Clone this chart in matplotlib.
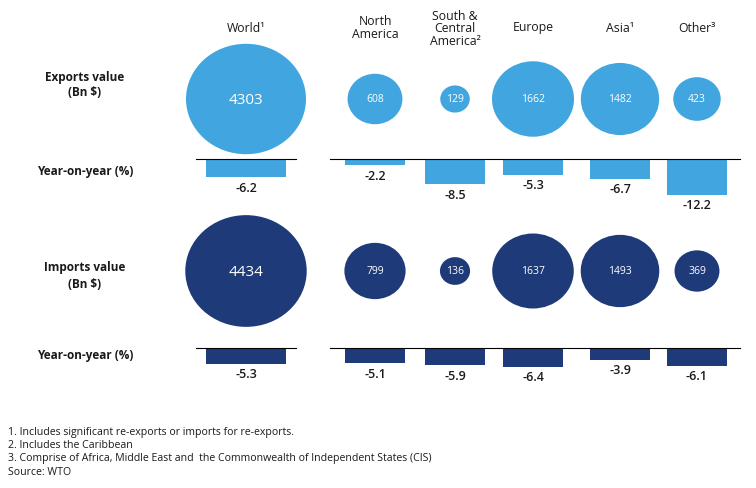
import numpy as np
import matplotlib.pyplot as plt
from matplotlib.patches import Ellipse, Rectangle

plt.rcParams['font.family'] = ['Open Sans', 'DejaVu Sans']

regions = ["World¹", "North\nAmerica", "South &\nCentral\nAmerica²", "Europe", "Asia¹", "Other³"]
exports_value = [4303, 608, 129, 1662, 1482, 423]
exports_yoy = [-6.2, -2.2, -8.5, -5.3, -6.7, -12.2]
imports_value = [4434, 799, 136, 1637, 1493, 369]
imports_yoy = [-5.3, -5.1, -5.9, -6.4, -3.9, -6.1]
notes = [
    "1. Includes significant re-exports or imports for re-exports.",
    "2. Includes the Caribbean",
    "3. Comprise of Africa, Middle East and  the Commonwealth of Independent States (CIS)",
    "Source: WTO",
]

light = "#41A5E0"
dark = "#1E3A78"
txt = "#1a1a1a"

col_x = [246, 375, 455, 533, 620, 697]
bar_w = [80, 60, 60, 60, 60, 60]

fig = plt.figure(figsize=(7.56, 4.89), dpi=100)
ax = fig.add_axes([0, 0, 1, 1])
ax.set_xlim(0, 756)
ax.set_ylim(489, 0)
ax.axis("off")

header_y = [28, 28, 29, 28, 28, 28]
for x, name, y in zip(col_x, regions, header_y):
    ax.text(x, y, name, ha="center", va="center", fontsize=8.8, color=txt, linespacing=0.95)

def bubbles(values, cy, color):
    for x, v in zip(col_x, values):
        w = 120 * (v / 4303) ** 0.4
        ax.add_patch(Ellipse((x, cy), w, w * 0.92, color=color, lw=0))
        fs = 11 if v > 4000 else 7.5
        ax.text(x, cy, f"{v}", ha="center", va="center", fontsize=fs, color="white")

def bars(values, base, color):
    ax.plot([196, 296], [base, base], color="black", lw=0.8)
    ax.plot([330, 740], [base, base], color="black", lw=0.8)
    for x, w, v in zip(col_x, bar_w, values):
        h = -v * 2.95
        ax.add_patch(Rectangle((x - w / 2, base), w, h, color=color, lw=0))
        ax.text(x, base + h + 10, f"{v}", ha="center", va="center", fontsize=9,
                color=txt, fontweight="semibold")

bubbles(exports_value, 100, light)
bars(exports_yoy, 160, light)
bubbles(imports_value, 272, dark)
bars(imports_yoy, 349, dark)

row_labels = [("Exports value\n(Bn $)", 85), ("Year-on-year (%)", 172),
              ("Imports value\n(Bn $)", 276), ("Year-on-year (%)", 355)]
for label, y in row_labels:
    ax.text(85, y, label, ha="center", va="center", fontsize=8.5,
            fontweight="bold", color=txt, linespacing=1.3)

for i, n in enumerate(notes):
    ax.text(8, 432 + i * 13.5, n, ha="left", va="center", fontsize=7.6, color=txt)

fig.savefig("out.png", dpi=100, facecolor="white")
